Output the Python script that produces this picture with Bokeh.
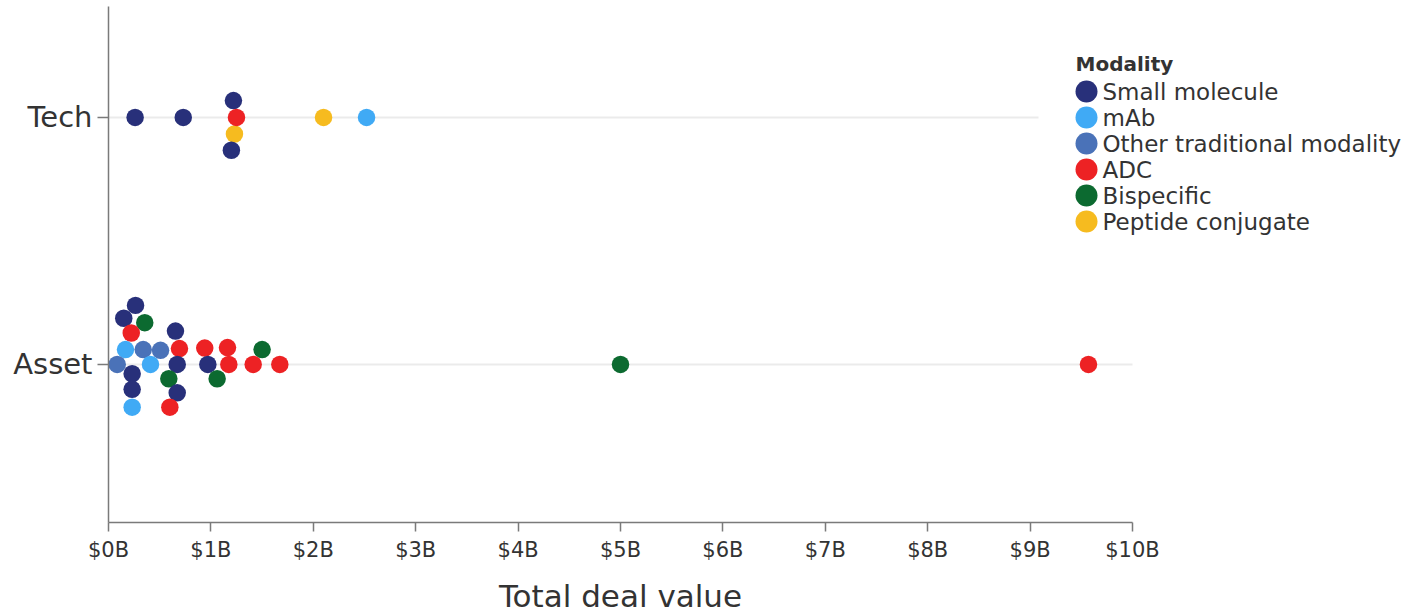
from bokeh.plotting import figure
from bokeh.models import FixedTicker, Range1d, Label, ColumnDataSource, LinearAxis
from bokeh.embed import file_html
from bokeh.resources import INLINE

# ---------------- data ----------------
rows = ["Asset", "Tech"]  # row index 0, 1
modalities = ["Small molecule", "mAb", "Other traditional modality",
              "ADC", "Bispecific", "Peptide conjugate"]
modality_colors = ["#28307a", "#40aaf5", "#4a72b8", "#ed2224", "#0c6a30", "#f6bb1f"]

# Tech deals ($B), modality, beeswarm offset (row units)
tech_value = [0.26, 0.73, 1.22, 1.23, 1.20, 1.25, 2.10, 2.52]
tech_modality = ["Small molecule", "Small molecule", "Small molecule", "Peptide conjugate",
                 "Small molecule", "ADC", "Peptide conjugate", "mAb"]
tech_offset = [0.0, 0.0, 0.068, -0.067, -0.133, 0.0, 0.0, 0.0]

# Asset deals ($B), modality, beeswarm offset (row units)
asset_value = [0.264, 0.149, 0.354, 0.222, 0.654, 0.166, 0.339, 0.508, 0.693, 0.94,
               1.162, 1.50, 0.085, 0.41, 0.671, 0.97, 1.175, 1.413, 1.673, 0.231,
               0.589, 1.061, 0.231, 0.671, 0.231, 0.599, 5.00, 9.57]
asset_modality = ["Small molecule", "Small molecule", "Bispecific", "ADC", "Small molecule",
                  "mAb", "Other traditional modality", "Other traditional modality", "ADC", "ADC",
                  "ADC", "Bispecific", "Other traditional modality", "mAb", "Small molecule",
                  "Small molecule", "ADC", "ADC", "ADC", "Small molecule",
                  "Bispecific", "Bispecific", "Small molecule", "Small molecule", "mAb",
                  "ADC", "Bispecific", "ADC"]
asset_offset = [0.239, 0.187, 0.169, 0.127, 0.135, 0.060, 0.060, 0.057, 0.064, 0.066,
                0.068, 0.060, 0.0, 0.0, 0.0, 0.0, 0.0, 0.0, 0.0, -0.038,
                -0.058, -0.058, -0.101, -0.115, -0.173, -0.173, 0.0, 0.0]

x_ticks = [0, 1, 2, 3, 4, 5, 6, 7, 8, 9, 10]
x_tick_labels = ["$0B", "$1B", "$2B", "$3B", "$4B", "$5B", "$6B", "$7B", "$8B", "$9B", "$10B"]
x_title = "Total deal value"
legend_title = "Modality"

# ---------------- styling ----------------
FONT = "DejaVu Sans"
TEXT = "#333333"
AXIS = "#7a7a7a"

PX_PER_B = 102.4
FRAME_W, FRAME_H = 1297, 516
X0, X1 = 0, FRAME_W / PX_PER_B     # axis itself is bounded to $0B-$10B
Y0, Y1 = -0.64, 1.449

p = figure(frame_width=FRAME_W, frame_height=FRAME_H,
           min_border_left=108, min_border_right=0, min_border_top=6, min_border_bottom=92,
           x_range=Range1d(X0, X1), y_range=Range1d(Y0, Y1),
           output_backend="svg", toolbar_location=None,
           outline_line_color=None, background_fill_color="white", border_fill_color="white")

# helpers mapping frame pixels to data coordinates (for legend layout)
def px_x(px):
    return X0 + (px - 108) / PX_PER_B

def px_y(py):
    return Y1 - (py - 6) / FRAME_H * (Y1 - Y0)

p.xgrid.visible = False
p.ygrid.visible = False

# horizontal guide lines per row (Tech's stops where the legend box begins)
p.segment(x0=[0, 0], x1=[x_ticks[-1], px_x(1038)], y0=[0, 1], y1=[0, 1],
          line_color="#ebebeb", line_width=2, level="underlay")

color_of = dict(zip(modalities, modality_colors))
xs = tech_value + asset_value
ys = [1 + o for o in tech_offset] + [0 + o for o in asset_offset]
cs = [color_of[m] for m in tech_modality + asset_modality]
src = ColumnDataSource(dict(x=xs, y=ys, color=cs))
p.scatter("x", "y", source=src, size=17.5, fill_color="color", line_color=None)

# axes
p.xaxis.bounds = (x_ticks[0], x_ticks[-1])
p.xaxis.ticker = FixedTicker(ticks=x_ticks)
p.xaxis.major_label_overrides = {t: l for t, l in zip(x_ticks, x_tick_labels)}
p.yaxis.ticker = FixedTicker(ticks=[0, 1])
p.yaxis.major_label_overrides = {0: rows[0], 1: rows[1]}

for ax in (p.xaxis[0], p.yaxis[0]):
    ax.axis_line_color = AXIS
    ax.axis_line_width = 1.5
    ax.major_tick_line_color = AXIS
    ax.major_tick_line_width = 1.5
    ax.minor_tick_line_color = None
    ax.major_tick_in = 0
    ax.major_label_text_font = FONT
    ax.major_label_text_color = TEXT

p.xaxis.major_tick_out = 9
p.xaxis.major_label_text_font_size = "21px"
p.xaxis.major_label_standoff = 6

p.yaxis.major_tick_out = 11
p.yaxis.major_label_text_font_size = "29px"
p.yaxis.major_label_standoff = 5

# x-axis title, centred under the $0B-$10B span
mid = (x_ticks[0] + x_ticks[-1]) / 2
title_axis = LinearAxis(ticker=FixedTicker(ticks=[mid]),
                        major_label_overrides={mid: x_title},
                        axis_line_color=None, major_tick_line_color=None,
                        minor_tick_line_color=None, major_tick_in=0, major_tick_out=0,
                        major_label_standoff=13, major_label_text_font=FONT,
                        major_label_text_font_size="31px", major_label_text_color=TEXT)
p.add_layout(title_axis, "below")

# legend (manual, so that swatches are full-size dots)
p.add_layout(Label(x=px_x(1075), y=px_y(63), text=legend_title, text_font=FONT,
                   text_font_size="20px", text_font_style="bold", text_color=TEXT,
                   text_baseline="middle", text_align="left"))
leg_y = [px_y(91 + 26 * i) for i in range(len(modalities))]
p.scatter(x=[px_x(1086)] * len(modalities), y=leg_y, size=22,
          fill_color=modality_colors, line_color=None)
for m, yy in zip(modalities, leg_y):
    p.add_layout(Label(x=px_x(1102), y=yy, text=m, text_font=FONT, text_font_size="23px",
                       text_color=TEXT, text_baseline="middle", text_align="left"))

open("out.html", "w").write(file_html(p, INLINE))
